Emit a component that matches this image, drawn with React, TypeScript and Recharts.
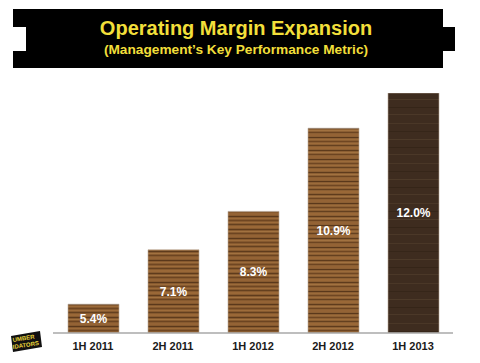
import { Bar, BarChart, Cell, LabelList, XAxis, YAxis } from "recharts";

const periods = ["1H 2011", "2H 2011", "1H 2012", "2H 2012", "1H 2013"];
const margins = [5.4, 7.1, 8.3, 10.9, 12.0];
const woods = ["url(#oak)", "url(#oak)", "url(#oak)", "url(#oak2)", "url(#walnut)"];

const data = periods.map((period, i) => ({ period, margin: margins[i] }));

const FONT = "'Liberation Sans', Arial, sans-serif";

// grain stripes: [y, height, color]
const oakGrain: [number, number, string][] = [
  [0, 1, "#6f4622"], [2, 1, "#9e6c3a"], [4, 1, "#64401f"], [6, 2, "#9a6837"],
  [9, 1, "#5e3b1c"], [11, 1, "#a27240"], [13, 1, "#6c4421"], [15, 2, "#946335"],
  [18, 1, "#5a381b"], [20, 1, "#9c6b3a"],
];
const walnutGrain: [number, number, string][] = [
  [3, 1, "#4a3727"], [11, 1, "#362619"], [19, 1, "#4d3a29"], [27, 1, "#352518"],
  [34, 1, "#4b3828"],
];

function WoodDefs() {
  return (
    <defs>
      <pattern id="oak" patternUnits="userSpaceOnUse" width={80} height={22}>
        <rect width={80} height={22} fill="#875a2f" />
        {oakGrain.map(([y, h, c], i) => (
          <rect key={i} x={0} y={y} width={80} height={h} fill={c} />
        ))}
      </pattern>
      <pattern id="oak2" patternUnits="userSpaceOnUse" width={80} height={22} patternTransform="translate(0,9)">
        <rect width={80} height={22} fill="#8c5f33" />
        {oakGrain.map(([y, h, c], i) => (
          <rect key={i} x={0} y={y} width={80} height={h} fill={c} />
        ))}
      </pattern>
      <pattern id="walnut" patternUnits="userSpaceOnUse" width={80} height={40}>
        <rect width={80} height={40} fill="#3e2c1f" />
        {walnutGrain.map(([y, h, c], i) => (
          <rect key={i} x={0} y={y} width={80} height={h} fill={c} />
        ))}
      </pattern>
    </defs>
  );
}

function Header() {
  return (
    <svg
      width={480}
      height={363}
      style={{ position: "absolute", left: 0, top: 0, pointerEvents: "none" }}
    >
      <path d="M13,9 H443 V27 H455 V51 H443 V68 H13 V51 H26 V27 H13 Z" fill="#000" />
      <text x={236} y={35} textAnchor="middle" fill="#f2df3a" fontFamily={FONT} fontWeight="bold" fontSize={20}>
        Operating Margin Expansion
      </text>
      <text x={236} y={54} textAnchor="middle" fill="#f2df3a" fontFamily={FONT} fontWeight="bold" fontSize={13.7}>
        (Management’s Key Performance Metric)
      </text>
      {/* small logo, bottom left */}
      <path d="M11,336 L40,331 L42,347 L13,352 Z" fill="#111" />
      <text x={13} y={342} fill="#e8d43a" fontFamily={FONT} fontWeight="bold" fontSize={6} transform="rotate(-9 13 342)">
        UMBER
      </text>
      <text x={13} y={349} fill="#e8d43a" fontFamily={FONT} fontWeight="bold" fontSize={6} transform="rotate(-9 13 349)">
        IDATORS
      </text>
    </svg>
  );
}

export default function App() {
  return (
    <div style={{ position: "absolute", left: 0, top: 0, width: 480, height: 363, background: "#fff" }}>
      <BarChart
        width={480}
        height={363}
        data={data}
        margin={{ top: 93, right: 27, bottom: 0, left: 53 }}
      >
        <WoodDefs />
        <XAxis
          dataKey="period"
          height={30}
          tickSize={0}
          tickMargin={9}
          tickLine={false}
          stroke="#a8a8a8"
          strokeWidth={1.5}
          tick={{ fill: "#1a1a1a", fontSize: 11, fontWeight: "bold", fontFamily: FONT }}
        />
        <YAxis hide domain={[4.5, 12]} allowDataOverflow />
        <Bar dataKey="margin" barSize={51} isAnimationActive={false}>
          {data.map((d, i) => (
            <Cell key={d.period} fill={woods[i]} stroke="#b9a898" strokeWidth={0.6} />
          ))}
          <LabelList
            dataKey="margin"
            position="center"
            fill="#fff"
            fontSize={12}
            fontWeight="bold"
            fontFamily={FONT}
            formatter={(v: any) => `${Number(v).toFixed(1)}%`}
          />
        </Bar>
      </BarChart>
      <Header />
    </div>
  );
}
